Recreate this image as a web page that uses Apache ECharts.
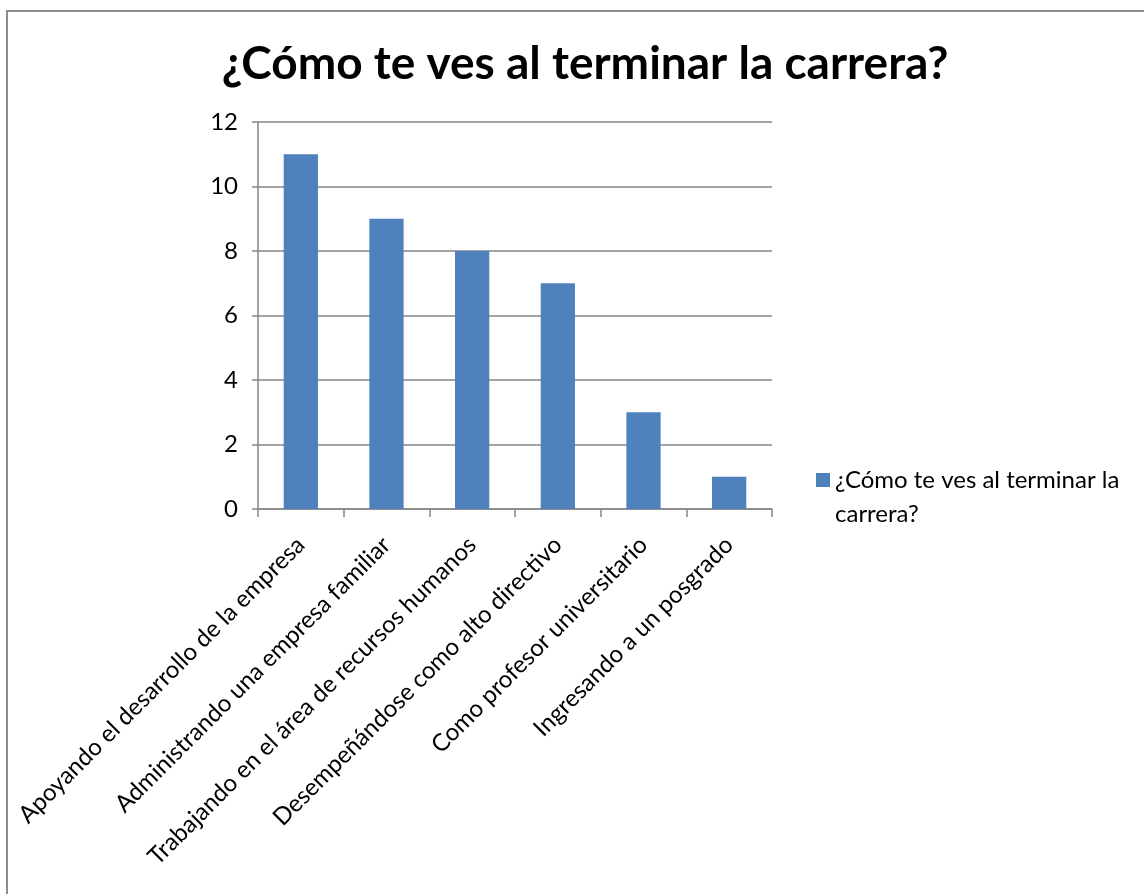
<!DOCTYPE html>
<html><head><meta charset="utf-8">
<script src="https://cdn.jsdelivr.net/npm/echarts@6/dist/echarts.min.js"></script>
<style>
html,body{margin:0;padding:0;background:#fff;}
#frame{position:absolute;left:6px;top:10px;width:1200px;height:1000px;border:2px solid #8c8c8c;box-sizing:border-box;}
#c{position:absolute;left:0;top:0;width:1144px;height:894px;}
</style></head>
<body><div id="frame"></div><div id="c"></div>
<script>
const titleText = '¿Cómo te ves al terminar la carrera?';
const seriesName = '¿Cómo te ves al terminar la carrera?';
const legendLines = ['¿Cómo te ves al terminar la', 'carrera?'];
const categories = ['Apoyando el desarrollo de la empresa','Administrando una empresa familiar','Trabajando en el área de recursos humanos','Desempeñándose como alto directivo','Como profesor universitario','Ingresando a un posgrado'];
const values = [11, 9, 8, 7, 3, 1];
const font = 'Lato, "Open Sans", sans-serif';
const barColor = '#4F81BD';
const chart = echarts.init(document.getElementById('c'));
chart.setOption({
  backgroundColor: 'transparent',
  animation: false,
  title: {text: titleText, left: 580, textAlign: 'center', top: 36,
    textStyle: {fontFamily: font, fontSize: 46, fontWeight: 'bold', color: '#000'}},
  legend: {left: 806, top: 463, itemWidth: 0, itemHeight: 0, icon: 'none',
    formatter: () => '{sq|}{gap|}{t|' + legendLines[0] + '}\n{ind|}{t|' + legendLines[1] + '}',
    textStyle: {fontFamily: font, fontSize: 24, color: '#000',
      rich: {
        sq: {width: 14, height: 14, backgroundColor: barColor},
        gap: {width: 5},
        ind: {width: 19},
        t: {fontFamily: font, fontSize: 24, color: '#000', lineHeight: 34}
      }}},
  grid: {left: 258, right: 372, top: 122, bottom: 385},
  xAxis: {type: 'category', data: categories,
    axisLine: {lineStyle: {color: '#868686', width: 1.5}},
    axisTick: {show: true, length: 8, lineStyle: {color: '#868686', width: 1.5}},
    axisLabel: {rotate: 45, interval: 0, fontFamily: font, fontSize: 24, color: '#000', margin: 32}},
  yAxis: {type: 'value', min: 0, max: 12, interval: 2,
    axisLine: {show: true, lineStyle: {color: '#868686', width: 1.5}},
    axisTick: {show: true, length: 6, lineStyle: {color: '#868686', width: 1.5}},
    splitLine: {lineStyle: {color: '#868686', width: 1.5}},
    axisLabel: {fontFamily: font, fontSize: 24, color: '#000', margin: 20}},
  series: [{name: seriesName, type: 'bar', data: values, barWidth: '40%',
    itemStyle: {color: barColor}}]
});
</script></body></html>
